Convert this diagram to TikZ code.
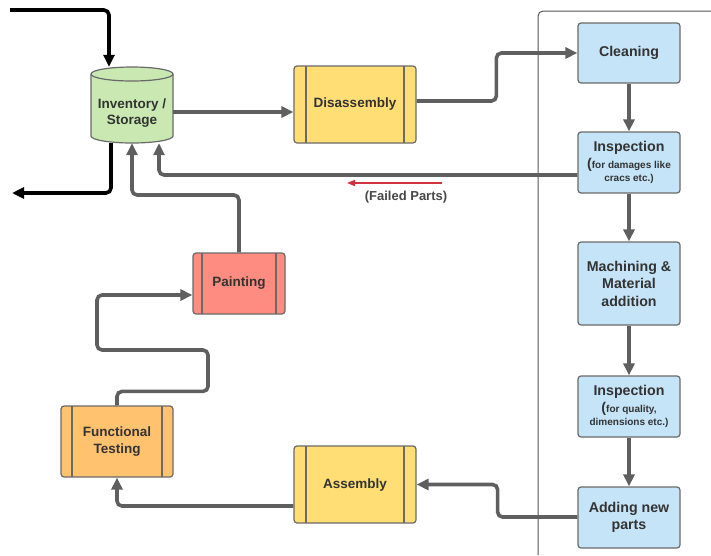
\documentclass[tikz,border=0pt]{standalone}
\usepackage{fontspec}
\setmainfont{Liberation Sans}
\usetikzlibrary{arrows.meta}
\definecolor{linec}{HTML}{5F5F5F}
\definecolor{bordc}{HTML}{6A6A6A}
\definecolor{framec}{HTML}{555555}
\definecolor{txtc}{HTML}{333333}
\definecolor{greenf}{HTML}{C9E8B2}
\definecolor{yellowf}{HTML}{FFDE75}
\definecolor{bluef}{HTML}{C5E4F7}
\definecolor{salmonf}{HTML}{FF8C80}
\definecolor{orangef}{HTML}{FFC26F}
\definecolor{redc}{HTML}{D2323F}
\newcommand\mysmallf{\fontsize{10}{12}\selectfont}
\tikzset{
  basebox/.style={draw=bordc, line width=1.2pt, rounded corners=3pt, text=txtc,
    font=\bfseries\fontsize{13.5}{16.5}\selectfont, align=center, inner sep=0pt},
  procbox/.style={basebox, path picture={
    \draw[bordc,line width=1.2pt] ([xshift=#1]path picture bounding box.north west) -- ([xshift=#1]path picture bounding box.south west);
    \draw[bordc,line width=1.2pt] ([xshift=-#1]path picture bounding box.north east) -- ([xshift=-#1]path picture bounding box.south east);}},
  bluebox/.style={basebox, fill=bluef, minimum width=102pt, font=\bfseries\fontsize{14.2}{17.5}\selectfont},
  conn/.style={draw=linec, line width=3.6pt, rounded corners=5pt, -{Triangle[length=12pt,width=11pt]}},
  blk/.style={draw=black, line width=3.6pt, rounded corners=5pt, -{Triangle[length=12pt,width=11pt]}}
}
\begin{document}
\begin{tikzpicture}[x=1pt,y=-1pt]
\useasboundingbox (0,0) rectangle (711,555);
% frame
\draw[framec, line width=1pt, rounded corners=5pt] (538,555) -- (538,11) -- (711,11);
% cylinder
\fill[greenf] (91,74) -- (91,136) arc[start angle=180,end angle=360,x radius=41pt,y radius=7pt] -- (173,74) arc[start angle=0,end angle=180,x radius=41pt,y radius=7pt] -- cycle;
\draw[bordc, line width=1.2pt] (91,74) -- (91,136) arc[start angle=180,end angle=360,x radius=41pt,y radius=7pt] -- (173,74) arc[start angle=0,end angle=180,x radius=41pt,y radius=7pt] -- cycle;
\draw[bordc, line width=1.2pt] (91,74) arc[start angle=180,end angle=360,x radius=41pt,y radius=7pt];
\node[minimum width=82pt, minimum height=60pt, inner sep=0pt, text=txtc, align=center,
  font=\bfseries\fontsize{13.5}{16.5}\selectfont] (inv) at (132,113) {Inventory /\\Storage};
% boxes
\node[procbox=12pt, fill=yellowf, minimum width=122pt, minimum height=77pt] (dis) at (355,104.5) {Disassembly};
\node[bluebox, minimum height=60pt] (clean) at (629,53) {Cleaning};
\node[bluebox, minimum height=61pt] (insp1) at (629,162.5) {Inspection\\[-1pt]({\mysmallf for damages like}\\[-4pt]{\mysmallf cracs etc.)}};
\node[bluebox, minimum height=83pt] (mach) at (629,283.5) {Machining \&\\Material\\addition};
\node[bluebox, minimum height=61pt] (insp2) at (629,406.5) {Inspection\\[-1pt]({\mysmallf for quality,}\\[-4pt]{\mysmallf dimensions etc.)}};
\node[bluebox, minimum height=61pt] (add) at (629,517.5) {Adding new\\parts};
\node[procbox=12pt, fill=yellowf, minimum width=122pt, minimum height=77pt] (asm) at (355,484.5) {Assembly};
\node[procbox=11pt, fill=orangef, minimum width=112pt, minimum height=71pt] (ft) at (117,441.5) {Functional\\Testing};
\node[procbox=9pt, fill=salmonf, minimum width=92pt, minimum height=61pt] (paint) at (239,283.5) {Painting};
% outside flows
\coordinate (tin) at (10,10);
\coordinate (tout) at (12,193);
\draw[blk] (tin) -| ([xshift=-23pt,yshift=16pt]inv.north);
\draw[blk] ([xshift=-21pt]inv.south) |- (tout);
% connectors
\draw[conn] (inv.east |- 0,112) -- (dis.west |- 0,112);
\draw[conn] (dis.east |- 0,101) -| ([xshift=-81pt]clean.west) -- (clean.west);
\draw[conn] (clean) -- (insp1);
\draw[conn] (insp1) -- (mach);
\draw[conn] (mach) -- (insp2);
\draw[conn] (insp2) -- (add);
\draw[conn] (insp1.west |- 0,175) -| ([xshift=27pt]inv.south);
\draw[conn] (add.west |- 0,517) -| ([xshift=81pt]asm.east) -- (asm.east);
\draw[conn] (asm.west |- 0,506) -| (ft.south);
\draw[conn] (ft.north) -- ++(0,-14) -| (208,350) -| (97,295) -- (paint.west |- 0,295);
\draw[conn] (paint.north) |- (inv.south |- 0,195) -- (inv.south);
% failed parts
\coordinate (fa1) at (442,183);
\coordinate (fa2) at (347,183);
\draw[redc, line width=1.5pt, -{Triangle[length=8pt,width=6pt]}] (fa1) -- (fa2);
\node[text=txtc!90!white, font=\bfseries\fontsize{13}{15}\selectfont] (fl) at (406,197) {(Failed Parts)};
\end{tikzpicture}
\end{document}
